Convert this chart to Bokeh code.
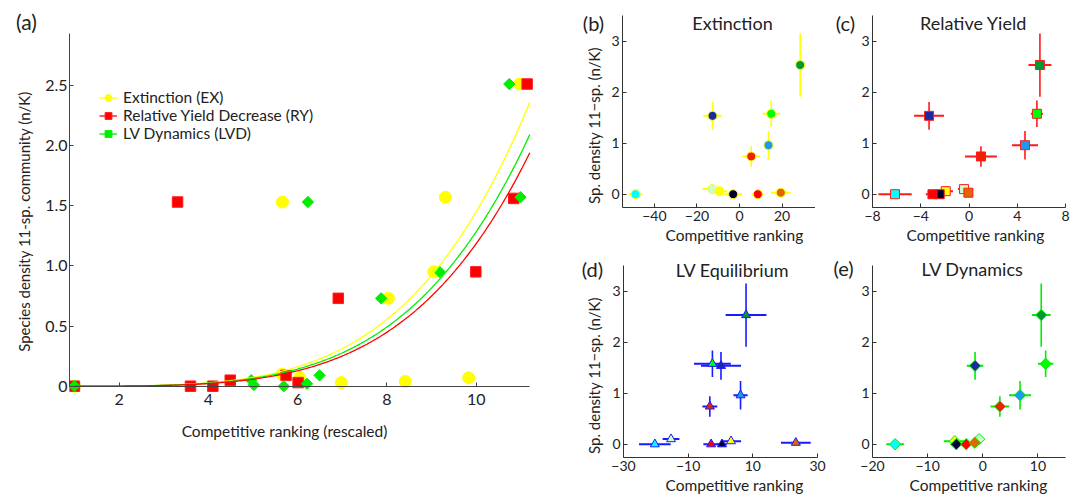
import numpy as np
from bokeh.plotting import figure
from bokeh.models import (Range1d, FixedTicker, Label, Legend, LegendItem, Title,
                          ColumnDataSource, CustomJSTickFormatter)
from bokeh.layouts import row, column
from bokeh.embed import file_html
from bokeh.resources import INLINE

FONT = "Lato"
TEXT = "#222222"
AXIS = "#333333"

# ---------------- panel (a): rescaled competitive ranking vs density ----------------
ex_rank = [1.0, 5.65, 5.66, 6.05, 6.98, 8.03, 8.41, 9.05, 9.31, 9.83, 10.97]
ex_dens = [0.0, 0.10, 1.53, 0.07, 0.03, 0.73, 0.04, 0.95, 1.57, 0.07, 2.51]
ry_rank = [1.0, 3.31, 3.60, 4.10, 4.49, 5.74, 6.01, 6.91, 9.99, 10.84, 11.14]
ry_dens = [0.0, 1.53, 0.0, 0.0, 0.05, 0.09, 0.03, 0.73, 0.95, 1.56, 2.51]
lvd_rank = [1.0, 4.96, 5.02, 5.69, 6.23, 6.21, 6.49, 7.87, 9.18, 10.74, 10.99]
lvd_dens = [0.0, 0.05, 0.01, 0.0, 1.53, 0.02, 0.09, 0.73, 0.95, 2.51, 1.57]

# power-law fit curves  y = scale * (x / x_end) ** power
fit_x_end = 11.2
fit_scale = {"EX": 2.36, "RY": 1.94, "LVD": 2.09}
fit_power = {"EX": 4.30, "RY": 4.35, "LVD": 4.30}

a_xticks = [2, 4, 6, 8, 10]
a_xlabels = ["2", "4", "6", "8", "10"]
a_yticks = [0, 0.5, 1.0, 1.5, 2.0, 2.5]
a_ylabels = ["0", "0.5", "1.0", "1.5", "2.0", "2.5"]

# ---------------- panels (b)-(e): per species ----------------
species_colors = ["#00FFFF", "#CCFFCC", "#FFFF00", "#000033", "#FF0000", "#E06600",
                  "#EE2200", "#1A9AF0", "#00FF00", "#1A2AA0", "#009933"]
density = [0.0, 0.10, 0.06, 0.0, 0.0, 0.03, 0.74, 0.96, 1.575, 1.535, 2.53]
density_err = [0.0, 0.0, 0.0, 0.0, 0.0, 0.0, 0.20, 0.28, 0.26, 0.27, 0.62]

ext_rank = [-48.9, -12.8, -9.4, -3.0, 8.6, 19.4, 5.5, 13.6, 14.9, -12.7, 28.5]
ext_err = [3.2, 4.6, 3.5, 4.2, 2.9, 4.6, 4.1, 0.5, 4.0, 4.3, 0.5]
ryp_rank = [-6.13, -0.41, -1.93, -2.43, -3.03, -0.05, 0.99, 4.64, 5.63, -3.31, 5.88]
ryp_err = [1.38, 0.5, 0.6, 0.4, 0.55, 0.3, 1.32, 1.08, 0.5, 1.24, 0.95]
lve_rank = [-20.3, -15.3, 3.25, 0.46, -2.9, 23.3, -3.3, 6.2, -2.5, 0.15, 7.9]
lve_err = [4.9, 2.6, 3.1, 1.5, 2.4, 4.6, 2.3, 2.2, 5.7, 6.2, 6.3]
lvd2_rank = [-15.9, -0.67, -5.06, -4.8, -3.0, -1.46, 3.1, 6.76, 11.4, -1.4, 10.6]
lvd2_err = [1.6, 0.5, 2.0, 1.0, 0.8, 0.8, 1.7, 2.0, 1.4, 1.5, 1.7]

small_yticks = [0, 1, 2, 3]
small_ylabels = ["0", "1", "2", "3"]
b_xticks = [-40, -20, 0, 20]
b_xlabels = ["\u221240", "\u221220", "0", "20"]
c_xticks = [-8, -4, 0, 4, 8]
c_xlabels = ["\u22128", "\u22124", "0", "4", "8"]
d_xticks = [-30, -10, 10, 30]
d_xlabels = ["\u221230", "\u221210", "10", "30"]
e_xticks = [-20, -10, 0, 10]
e_xlabels = ["\u221220", "\u221210", "0", "10"]


def fmt(ticks, labels):
    return CustomJSTickFormatter(args=dict(tv=list(ticks), tl=list(labels)), code="""
        for (let i = 0; i < tv.length; i++) {
            if (Math.abs(tv[i] - tick) < 1e-9) return tl[i];
        }
        return "";
    """)


def style(p, xt, xl, yt, yl, fs, axis_color=AXIS):
    p.xaxis.ticker = FixedTicker(ticks=xt)
    p.yaxis.ticker = FixedTicker(ticks=yt)
    p.xaxis.formatter = fmt(xt, xl)
    p.yaxis.formatter = fmt(yt, yl)
    for ax in (p.xaxis[0], p.yaxis[0]):
        ax.major_tick_in = 4
        ax.major_tick_out = 0
        ax.minor_tick_in = 0
        ax.minor_tick_out = 0
        ax.axis_line_color = axis_color
        ax.major_tick_line_color = axis_color
        ax.axis_line_width = 1
        ax.major_label_text_font = FONT
        ax.major_label_text_font_size = fs
        ax.major_label_text_color = TEXT
    p.xgrid.visible = False
    p.ygrid.visible = False
    p.outline_line_color = None


def label(p, x, y, text, size, angle=0.0):
    p.add_layout(Label(x=x, y=y, x_units="screen", y_units="screen", text=text,
                       text_font=FONT, text_font_size=size, text_color=TEXT,
                       text_align="center", text_baseline="middle", angle=angle))


def text_strip(w, h):
    """Axis-free strip that carries panel letters and y titles
    (its frame is aligned with the neighbouring plot's frame)."""
    p = figure(width=w, height=h, x_axis_location=None, y_axis_location=None,
               min_border=0, x_range=Range1d(0, 1), y_range=Range1d(0, 1),
               output_backend="svg", toolbar_location=None, title=None)
    p.grid.visible = False
    p.outline_line_color = None
    return p


# ---------------- figure (a) ----------------
la = text_strip(41, 496)
label(la, 26, 445, "(a)", "21px")
label(la, 23, 247, "Species density  11-sp. community (n/K)", "15px", np.pi / 2)

pa = figure(frame_width=466, frame_height=466, min_border_left=28, min_border_right=25,
            min_border_top=0, min_border_bottom=30,
            x_range=Range1d(0.890, 11.327), y_range=Range1d(-0.667, 3.204),
            output_backend="svg", toolbar_location=None, title=None)
style(pa, a_xticks, a_xlabels, a_yticks, a_ylabels, "16px", "#444444")
pa.xaxis.fixed_location = 0
pa.xaxis.bounds = (0.890, 11.2)
pa.yaxis.bounds = (0, 2.93)
pa.xaxis.major_label_standoff = 8
pa.yaxis.major_label_standoff = 2

ex_pts = pa.scatter(ex_rank, ex_dens, marker="circle", size=12,
                    fill_color="#FFFF00", line_color="#FFFF00")
ry_pts = pa.scatter(ry_rank, ry_dens, marker="square", size=10.5,
                    fill_color="#FF0000", line_color="#FF2020")
lvd_pts = pa.scatter(lvd_rank, lvd_dens, marker="square", angle=np.pi / 4, size=8,
                     fill_color="#00EE00", line_color="#00EE00")

xs = np.linspace(1, fit_x_end, 300)
ex_line = pa.line(xs, fit_scale["EX"] * (xs / fit_x_end) ** fit_power["EX"],
                  line_color="#FFFF00", line_width=1.3)
lvd_line = pa.line(xs, fit_scale["LVD"] * (xs / fit_x_end) ** fit_power["LVD"],
                   line_color="#00EE00", line_width=1.3)
ry_line = pa.line(xs, fit_scale["RY"] * (xs / fit_x_end) ** fit_power["RY"],
                  line_color="#FF0000", line_width=1.3)

legend = Legend(items=[
    LegendItem(label="Extinction (EX)", renderers=[ex_line, ex_pts]),
    LegendItem(label="Relative Yield Decrease (RY)", renderers=[ry_line, ry_pts]),
    LegendItem(label="LV Dynamics (LVD)", renderers=[lvd_line, lvd_pts]),
], location=(30, 324), border_line_color=None, background_fill_alpha=0,
    padding=0, margin=0, spacing=0, glyph_width=18, glyph_height=17,
    label_height=17, label_standoff=6, label_text_font=FONT,
    label_text_font_size="15.5px", label_text_color=TEXT)
pa.add_layout(legend)

label(pa, 215, 36, "Competitive ranking (rescaled)", "15.5px")


# ---------------- small panels ----------------
def small(xr, xt, xl, br, bb, fw, marker, size, bar_color, ranks, errs,
          title, title_pos, xlab_offset, angle=0.0):
    p = figure(frame_width=fw, frame_height=207, min_border_left=15, min_border_right=br,
               min_border_top=0, min_border_bottom=bb,
               x_range=Range1d(*xr), y_range=Range1d(-0.26, 3.794),
               output_backend="svg", toolbar_location=None, title=None)
    style(p, xt, xl, small_yticks, small_ylabels, "14px")
    p.yaxis.bounds = (-0.26, 3.5)
    p.xaxis.major_label_standoff = 3
    p.yaxis.major_label_standoff = 3
    r = np.array(ranks)
    e = np.array(errs)
    d = np.array(density)
    de = np.array(density_err)
    src = ColumnDataSource(dict(x=r, y=d, x0=r - e, x1=r + e, y0=d - de, y1=d + de,
                                c=species_colors))
    p.segment(x0="x0", y0="y", x1="x1", y1="y", source=src, line_color=bar_color, line_width=2)
    p.segment(x0="x", y0="y0", x1="x", y1="y1", source=src, line_color=bar_color, line_width=1.6)
    p.scatter(x="x", y="y", source=src, marker=marker, size=size, angle=angle,
              fill_color="c", line_color=bar_color, line_width=1)
    label(p, title_pos[0], title_pos[1], title, "18px")
    p.add_layout(Title(text="Competitive ranking", align="left", offset=xlab_offset,
                       standoff=0, text_font=FONT, text_font_size="15.5px",
                       text_color=TEXT, text_font_style="normal"), "below")
    return p


lb = text_strip(47, 250)
label(lb, 33, 185, "(b)", "20px")
label(lb, 33, 82, "Sp. density 11\u2212sp. (n/K)", "15px", np.pi / 2)
pb = small((-55, 35.7), b_xticks, b_xlabels, 0, 43, 193, "circle", 9, "#FFFF00",
           ext_rank, ext_err, "Extinction", (110, 185), 43)

lc = text_strip(42, 250)
label(lc, 30, 185, "(c)", "20px")
pc = small((-8, 8), c_xticks, c_xlabels, 5, 43, 193, "square", 9, "#FF1A1A",
           ryp_rank, ryp_err, "Relative Yield", (101, 185), 34)

ld = text_strip(48, 246)
label(ld, 32, 189, "(d)", "20px")
label(ld, 33, 82, "Sp. density 11\u2212sp. (n/K)", "15px", np.pi / 2)
pd = small((-30, 30), d_xticks, d_xlabels, 10, 39, 194, "triangle", 9, "#1A1AFF",
           lve_rank, lve_err, "LV Equilibrium", (109, 188), 42)

le = text_strip(30, 246)
label(le, 16, 190, "(e)", "20px")
pe = small((-20, 15), e_xticks, e_xlabels, 5, 39, 193, "square", 8, "#00EE00",
           lvd2_rank, lvd2_err, "LV Dynamics", (100, 189), 37, angle=np.pi / 4)

layout = row(la, pa, column(row(lb, pb, lc, pc), row(ld, pd, le, pe)))
open("out.html", "w").write(file_html(layout, INLINE))
